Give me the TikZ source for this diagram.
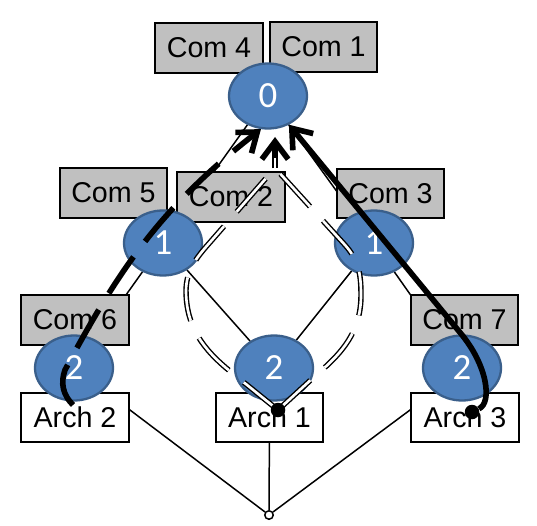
\documentclass[tikz,border=0pt]{standalone}
\usepackage{fontspec}
\setmainfont{Liberation Sans}
\newfontfamily\digitfont{Carlito}
\usepackage{tikz}
\usetikzlibrary{arrows.meta}
\usetikzlibrary{shapes.geometric}
\usetikzlibrary{backgrounds}

\definecolor{nodeblue}{HTML}{4F81BD}
\definecolor{nodeedge}{HTML}{3A5F8B}
\definecolor{boxgray}{HTML}{C0C0C0}

\begin{document}
\begin{tikzpicture}[
		-,
		combox/.style={draw=black, fill=boxgray, line width=1.1pt, minimum width=2.15cm, minimum height=0.99cm, inner sep=0pt, font=\fontsize{16.3}{18}\selectfont},
		archbox/.style={combox, fill=white},
		level/.style={ellipse, draw=nodeedge, fill=nodeblue, line width=1.3pt, minimum width=1.56cm, minimum height=1.3cm, inner sep=0pt, text=white, font=\digitfont\fontsize{21}{22}\selectfont},
		tree/.style={line width=0.85pt},
		walk/.style={line width=3.2pt, -{Straight Barb[length=10pt,width=15pt]}},
		dwalk/.style={draw=black, double=white, line width=0.8pt, double distance=1.5pt, dash pattern=on 25pt off 11pt},
		dot/.style={circle, fill=black, inner sep=0pt, minimum size=0.29cm}
	]
	\useasboundingbox (0,0) rectangle (10.74,10.5);

	\node[combox] (c4) at (4.18,9.54) {Com 4};
	\node[combox] (c1) at (6.47,9.56) {Com 1};
	\node[combox] (c5) at (2.27,6.64) {Com 5};
	\node[combox] (c2) at (4.62,6.56) {Com 2};
	\node[combox] (c3) at (7.81,6.63) {Com 3};
	\node[combox] (c6) at (1.50,4.10) {Com 6};
	\node[combox] (c7) at (9.29,4.10) {Com 7};

	\node[archbox] (a2) at (1.50,2.15) {Arch 2};
	\node[archbox] (a1) at (5.39,2.15) {Arch 1};
	\node[archbox] (a3) at (9.30,2.15) {Arch 3};

	\node[level] (n0) at (5.36,8.58) {0};
	\node[level] (n1l) at (3.26,5.64) {1};
	\node[level] (n1r) at (7.48,5.64) {1};
	\node[level] (n2l) at (1.48,3.14) {2};
	\node[level] (n2m) at (5.48,3.14) {2};
	\node[level] (n2r) at (9.24,3.14) {2};

	\node[circle, draw, fill=white, line width=0.85pt, minimum size=0.17cm, inner sep=0pt] (sink) at (5.38,0.2) {};

	% hierarchy
	\begin{scope}[on background layer]
		\draw[tree] (n0) -- (n1l);
		\draw[tree] (n0) -- (n1r);
		\draw[tree] (n1l) -- (n2l);
		\draw[tree] (n1l) -- (n2m);
		\draw[tree] (n1r) -- (n2m);
		\draw[tree] (n1r) -- (n2r);
	\end{scope}
	\draw[tree] (a2.8) -- (sink);
	\draw[tree] (a1) -- (sink);
	\draw[tree] (a3.172) -- (sink);

	\coordinate (s2) at (1.46,2.40);
	\coordinate (j0) at (5.50,7.14);
	\coordinate (t0) at (5.50,7.76);

	\draw[dwalk] (5.56,2.30) -- (4.62,3.06) to[out=141,in=-90] (3.72,4.70) to[out=88,in=-130] (4.10,5.54) -- (j0);
	\draw[dwalk] (5.56,2.30) -- (6.30,2.98) to[out=40,in=-90] (7.22,4.60) to[out=90,in=-48] (6.90,5.60) -- (j0);
	\draw[walk] (j0) -- (t0);
	\draw[dwalk, solid, shorten >=12pt] (j0) -- (t0);

	\draw[walk, dash pattern=on 25pt off 11pt] (s2) to[out=135,in=-110] (1.30,3.10) to[out=62,in=218] (n0.258);

	\node[dot] (d1) at (5.56,2.30) {};
	\node[dot] (d3) at (9.44,2.26) {};
	\draw[walk] (d3) .. controls (9.85,2.45) and (9.75,3.2) .. (9.2,3.85) -- (n0.306);
\end{tikzpicture}
\end{document}
